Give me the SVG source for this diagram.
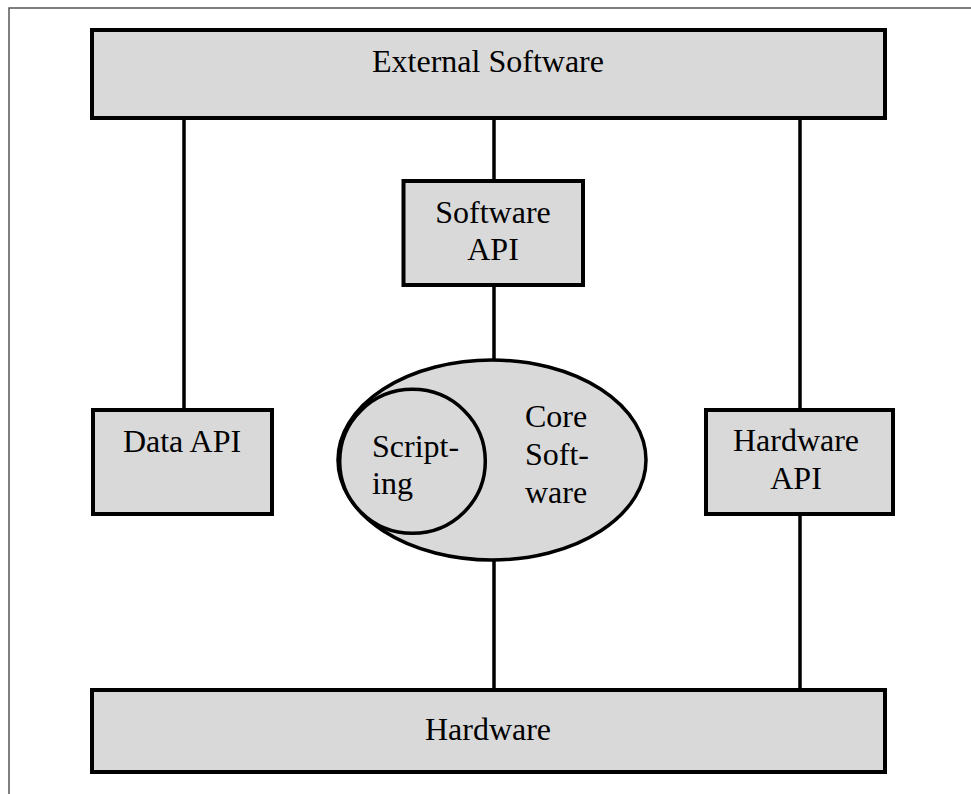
<svg xmlns="http://www.w3.org/2000/svg" width="971" height="794" viewBox="0 0 971 794">
<style>
.box{fill:#d9d9d9;stroke:#000;stroke-width:4}
.ln{stroke:#000;stroke-width:3.5;fill:none}
.t{font-family:"Liberation Serif","Times New Roman",serif;font-size:32px;fill:#000}
.c{text-anchor:middle}
</style>
<rect x="0" y="0" width="971" height="794" fill="#fff"/>
<rect x="9" y="8" width="975" height="800" fill="none" stroke="#555" stroke-width="1.5"/>
<g id="connectors">
<line class="ln" x1="184" y1="118" x2="184" y2="410"/>
<line class="ln" x1="494" y1="118" x2="494" y2="181"/>
<line class="ln" x1="494" y1="285" x2="494" y2="360"/>
<line class="ln" x1="800" y1="118" x2="800" y2="410"/>
<line class="ln" x1="494" y1="560" x2="494" y2="690"/>
<line class="ln" x1="800" y1="514" x2="800" y2="690"/>
</g>
<g id="external-software">
<rect class="box" x="92" y="30" width="793" height="88"/>
<text class="t c" x="488" y="72">External Software</text>
</g>
<g id="software-api">
<rect class="box" x="403.5" y="181" width="179.5" height="104"/>
<text class="t c" x="493" y="223">Software</text>
<text class="t c" x="493" y="260">API</text>
</g>
<g id="data-api">
<rect class="box" x="93" y="410" width="179" height="104"/>
<text class="t c" x="182" y="452">Data API</text>
</g>
<g id="hardware-api">
<rect class="box" x="706" y="410" width="187" height="104"/>
<text class="t c" x="796" y="451">Hardware</text>
<text class="t c" x="796" y="489">API</text>
</g>
<g id="core-software">
<ellipse cx="492" cy="460" rx="154" ry="100" fill="#d9d9d9" stroke="#000" stroke-width="3.5"/>
<text class="t" x="525" y="427">Core</text>
<text class="t" x="525" y="465">Soft-</text>
<text class="t" x="525" y="503">ware</text>
</g>
<g id="scripting">
<ellipse cx="412.5" cy="461.3" rx="72.8" ry="72" fill="#d9d9d9" stroke="#000" stroke-width="3.5"/>
<text class="t" x="372" y="457">Script-</text>
<text class="t" x="372" y="494">ing</text>
</g>
<g id="hardware">
<rect class="box" x="92" y="690" width="793" height="82"/>
<text class="t c" x="488" y="740">Hardware</text>
</g>
</svg>
